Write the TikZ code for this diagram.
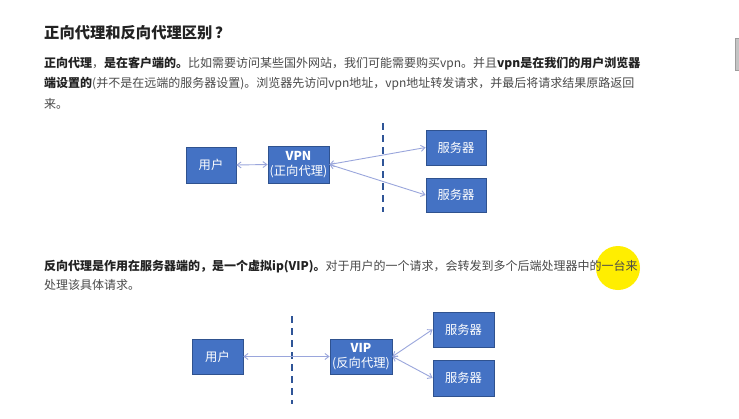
\documentclass[tikz,border=0pt]{standalone}
\usepackage{fontspec}
\setmainfont{Noto Sans CJK SC}
\usetikzlibrary{arrows.meta}
\definecolor{boxblue}{HTML}{4472C4}
\definecolor{boxedge}{HTML}{2F528F}
\definecolor{arrowc}{HTML}{9AA6DC}
\definecolor{dashc}{HTML}{2F5597}
\definecolor{txtb}{HTML}{222222}
\definecolor{txtr}{HTML}{4A4A4A}
\definecolor{hilite}{HTML}{FFEE00}
\definecolor{scrollc}{HTML}{C4C4C4}
\begin{document}
\begin{tikzpicture}[x=1pt,y=-1pt,
  box/.style={draw=boxedge, line width=0.8pt, fill=boxblue, text=white,
    font=\fontsize{12.3}{15}\selectfont, align=center, inner sep=0pt},
  arr/.style={draw=arrowc, line width=0.9pt,
    {Straight Barb[length=4pt,width=6pt]}-{Straight Barb[length=4pt,width=6pt]}},
  sepline/.style={draw=dashc, line width=2.2pt, dash pattern=on 7pt off 5pt},
  para/.style={anchor=west, inner sep=0pt, text=txtr, font=\fontsize{12}{14}\selectfont}]
\useasboundingbox[fill=white] (0,0) rectangle (739,418);
% scrollbar and highlight
\filldraw[fill=scrollc, draw=scrollc!80!black, line width=0.4pt] (735,38) rectangle (739,70);
\fill[hilite] (618,268) circle (22);
% title
\node[anchor=west, inner sep=0pt, text=txtb, font=\fontsize{15.3}{18}\selectfont\bfseries] (title) at (44,33) {正向代理和反向代理区别\,？};
% paragraph 1
\node[para] (p1a) at (44,64) {{\color{txtb}\bfseries 正向代理}，{\color{txtb}\bfseries 是在客户端的。}比如需要访问某些国外网站，我们可能需要购买vpn。并且{\color{txtb}\bfseries vpn是在我们的用户浏览器}};
\node[para] (p1b) at (44,84) {{\color{txtb}\bfseries 端设置的}(并不是在远端的服务器设置)。浏览器先访问vpn地址，vpn地址转发请求，并最后将请求结果原路返回};
\node[para] (p1c) at (44,104) {来。};
% diagram 1
\node[box, minimum width=50pt, minimum height=36pt] (user1) at (211,165) {用户};
\node[box, minimum width=61pt, minimum height=37pt] (vpn) at (298.5,164.5) {\bfseries VPN\\(正向代理)};
\node[box, minimum width=60pt, minimum height=35pt] (srv1) at (456,147.5) {服务器};
\node[box, minimum width=60pt, minimum height=34pt] (srv2) at (456,195) {服务器};
\coordinate (d1top) at (383,123);
\coordinate (d1bot) at (383,212);
\draw[sepline] (d1top) -- (d1bot);
\draw[arr] (user1.east) -- (vpn.west);
\draw[arr] (vpn.east) -- (srv1.west);
\draw[arr] (vpn.east) -- (srv2.west);
% paragraph 2
\node[para] (p2a) at (44,267) {{\color{txtb}\bfseries 反向代理是作用在服务器端的，是一个虚拟ip(VIP)。}对于用户的一个请求，会转发到多个后端处理器中的一台来};
\node[para] (p2b) at (44,285) {处理该具体请求。};
% diagram 2
\node[box, minimum width=51pt, minimum height=35pt] (user2) at (217.5,356.5) {用户};
\node[box, minimum width=62pt, minimum height=35pt] (vip) at (361,356.5) {\bfseries VIP\\(反向代理)};
\node[box, minimum width=61pt, minimum height=35pt] (srv3) at (463.5,329.5) {服务器};
\node[box, minimum width=61pt, minimum height=36pt] (srv4) at (463.5,378) {服务器};
\coordinate (d2top) at (292,316);
\coordinate (d2bot) at (292,404);
\draw[sepline] (d2top) -- (d2bot);
\draw[arr] (user2.east) -- (vip.west);
\draw[arr] (vip.east) -- (srv3.west);
\draw[arr] (vip.east) -- (srv4.west);
\end{tikzpicture}
\end{document}
